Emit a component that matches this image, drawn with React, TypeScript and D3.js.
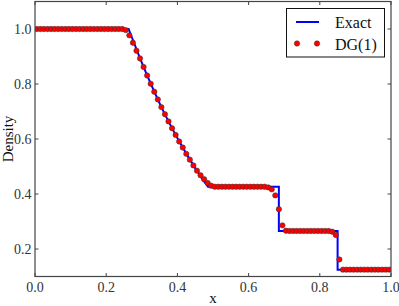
import React from 'react';
import * as d3 from 'd3';

// DG(1) cell averages, one per cell on [0, 1]
const dgX: number[] = d3.range(100).map(i => 0.005 + i * 0.01);
const dgRho: number[] = [
  1.0, 1.0, 1.0, 1.0, 1.0, 1.0, 1.0, 1.0, 1.0, 1.0,
  1.0, 1.0, 1.0, 1.0, 1.0, 1.0, 1.0, 1.0, 1.0, 1.0,
  1.0, 1.0, 1.0, 1.0, 1.0, 0.996, 0.977, 0.95, 0.921, 0.893,
  0.862, 0.831, 0.801, 0.772, 0.744, 0.716, 0.69, 0.664, 0.639, 0.615,
  0.591, 0.569, 0.546, 0.525, 0.504, 0.485, 0.468, 0.454, 0.44, 0.43,
  0.4265, 0.4265, 0.4265, 0.4265, 0.4265, 0.4265, 0.4265, 0.4265, 0.4265, 0.4265,
  0.4265, 0.4265, 0.4265, 0.4265, 0.4265, 0.424, 0.417, 0.395, 0.345, 0.286,
  0.2665, 0.2657, 0.2657, 0.2657, 0.2657, 0.2657, 0.2657, 0.2657, 0.2657, 0.2657,
  0.2657, 0.2657, 0.2657, 0.263, 0.251, 0.162, 0.125, 0.125, 0.125, 0.125,
  0.125, 0.125, 0.125, 0.125, 0.125, 0.125, 0.125, 0.125, 0.125, 0.125
];

// exact solution (polyline)
const exactX: number[] = [0, 0.263, 0.275, 0.295, 0.315, 0.335, 0.355, 0.375, 0.395, 0.415, 0.435, 0.455, 0.475, 0.486, 0.685, 0.685, 0.85, 0.85, 1.0];
const exactRho: number[] = [1.0, 1.0, 0.96, 0.893, 0.831, 0.772, 0.716, 0.664, 0.615, 0.569, 0.525, 0.484, 0.446, 0.4263, 0.4263, 0.2656, 0.2656, 0.125, 0.125];

const xTicks = [0, 0.2, 0.4, 0.6, 0.8, 1.0];
const yTicks = [0.2, 0.4, 0.6, 0.8, 1.0];

const W = 399;
const H = 306;
const FONT = '"Liberation Serif", "DejaVu Serif", serif';

export default function App() {
  const x = d3.scaleLinear().domain([0, 1]).range([35, 391]);
  const y = d3.scaleLinear().domain([0.1, 1.1]).range([276.5, 1.5]);
  const [x0, x1] = x.range();
  const [y0, y1] = y.range();

  const exactPts: [number, number][] = exactX.map((v, i) => [v, exactRho[i]]);
  const line = d3.line<[number, number]>().x(d => x(d[0])).y(d => y(d[1]));

  const tickLen = 3.5;
  const axisColor = '#444';

  return (
    <svg width={W} height={H} style={{ position: 'absolute', left: 0, top: 0, background: '#fff' }} fontFamily={FONT}>
      <rect x={0} y={0} width={W} height={H} fill="#fff" />
      <g clipPath="url(#plotclip)">
        <clipPath id="plotclip">
          <rect x={x0} y={y1} width={x1 - x0} height={y0 - y1} />
        </clipPath>
        <path d={line(exactPts) || ''} fill="none" stroke="#0000ff" strokeWidth={2} />
        {dgX.map((v, i) => (
          <circle key={i} cx={x(v)} cy={y(dgRho[i])} r={2.7} fill="#ff0000" stroke="#333" strokeWidth={0.5} />
        ))}
      </g>

      {/* frame */}
      <rect x={x0} y={y1} width={x1 - x0} height={y0 - y1} fill="none" stroke={axisColor} strokeWidth={1.2} />

      {/* x ticks */}
      {xTicks.map(t => (
        <g key={'x' + t}>
          <line x1={x(t)} x2={x(t)} y1={y0} y2={y0 - tickLen} stroke={axisColor} />
          <line x1={x(t)} x2={x(t)} y1={y1} y2={y1 + tickLen} stroke={axisColor} />
          <text x={x(t)} y={291.5} textAnchor="middle" fontSize={14} fill="#333">{t.toFixed(1)}</text>
        </g>
      ))}
      {/* y ticks */}
      {yTicks.map(t => (
        <g key={'y' + t}>
          <line x1={x0} x2={x0 + tickLen} y1={y(t)} y2={y(t)} stroke={axisColor} />
          <line x1={x1} x2={x1 - tickLen} y1={y(t)} y2={y(t)} stroke={axisColor} />
          <text x={31.5} y={y(t)} dy="0.35em" textAnchor="end" fontSize={14} fill="#333">{t.toFixed(1)}</text>
        </g>
      ))}

      <text x={(x0 + x1) / 2} y={303} textAnchor="middle" fontSize={15} fill="#111">x</text>
      <text transform={`translate(13,${(y0 + y1) / 2}) rotate(-90)`} textAnchor="middle" fontSize={15} fill="#111">Density</text>

      {/* legend */}
      <g>
        <rect x={286.5} y={8.5} width={98} height={48.5} fill="#fff" stroke="#111" strokeWidth={1} />
        <line x1={296} x2={319} y1={22} y2={22} stroke="#0000ff" strokeWidth={2} />
        <text x={335} y={22} dy="0.35em" fontSize={16} fill="#111">Exact</text>
        <circle cx={297} cy={43.5} r={2.7} fill="#ff0000" stroke="#333" strokeWidth={0.5} />
        <circle cx={317} cy={43.5} r={2.7} fill="#ff0000" stroke="#333" strokeWidth={0.5} />
        <text x={335} y={44} dy="0.35em" fontSize={16} fill="#111">DG(1)</text>
      </g>
    </svg>
  );
}
